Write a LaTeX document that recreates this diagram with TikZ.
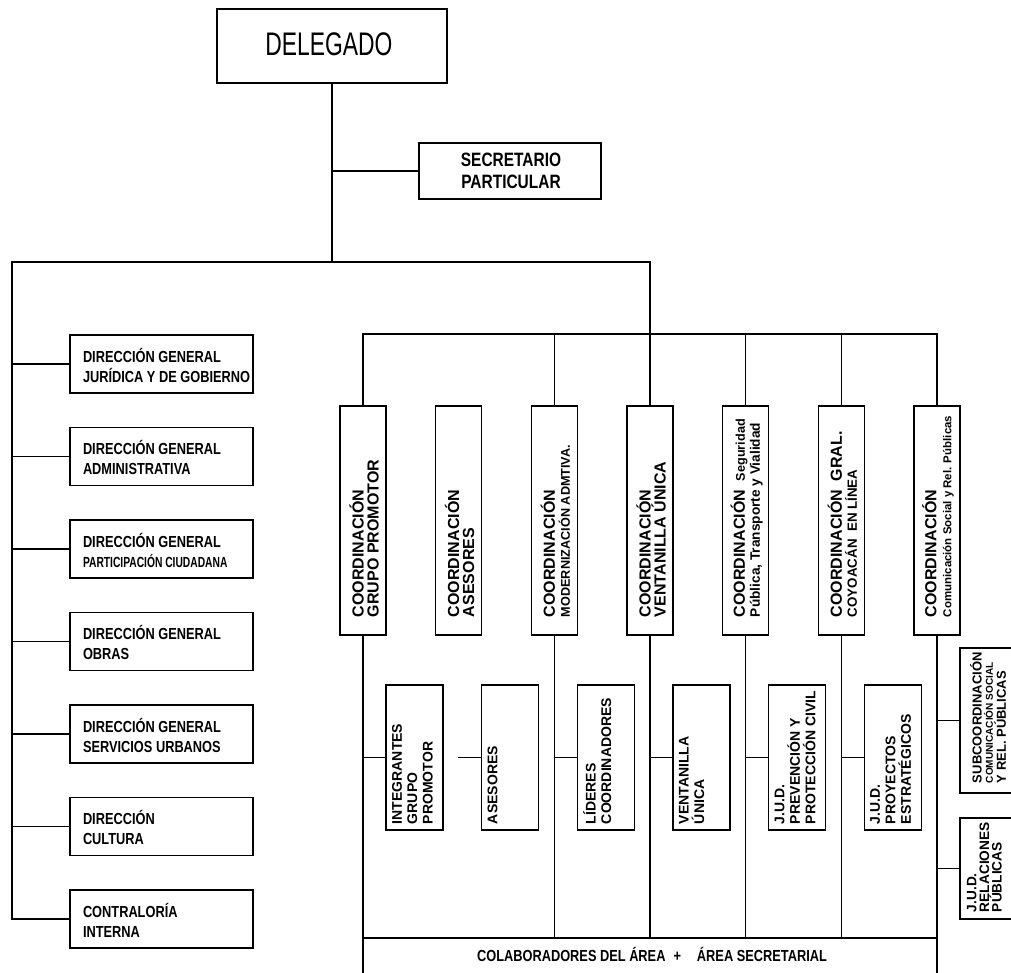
\documentclass[tikz,border=0pt]{standalone}
\usepackage{fontspec}
\setmainfont{Liberation Sans}
\newfontfamily\nar{Liberation Sans}[FakeStretch=0.8]
\newfontfamily\narr{Liberation Sans}[FakeStretch=0.7]
\usetikzlibrary{calc}
\newcommand{\fs}[2]{\fontsize{#1}{#2}\selectfont}
\begin{document}
\begin{tikzpicture}[x=0.75pt,y=-0.75pt, line width=1pt, line cap=rect,
  bx/.style={draw, inner sep=0pt, fill=white},
  sz/.style 2 args={minimum width=#1*0.75pt, minimum height=#2*0.75pt},
  lbl/.style={inner sep=0pt, align=left},
  rl/.style={rotate=90, inner sep=0pt, align=left},
  dirf/.style={font=\nar\bfseries\fs{12}{15}},
  coof/.style={font=\bfseries\fs{12}{11.25}},
  subf/.style={font=\bfseries\fs{10.5}{11.6}}]
\clip (0,0) rectangle (1011,972);
\fill[white] (0,0) rectangle (1011,972);

% ---------- boxes ----------
\node[bx, sz={230}{74}] (del) at (332,46) {};
\node[bx, sz={182}{56}] (sec) at (510,171) {};

\foreach \n/\t in {1/335,2/427.5,3/520,4/612.5,5/705,6/797.5,7/890}
  \node[bx, sz={183}{58}] (d\n) at (161.5,\t+29) {};

\foreach \n/\x in {1/363,2/458.7,3/554.3,4/650,5/745.7,6/841.3,7/937}
  \node[bx, sz={46}{229}] (c\n) at (\x,520.5) {};

\foreach \n/\x in {1/363,2/458.7,3/554.3,4/650,5/745.7,6/841.3}
  \node[bx, sz={57}{145}] (s\n) at (\x+51.5,757.5) {};

\node[bx, sz={80}{145}] (s7a) at (1000,720.5) {};
\node[bx, sz={80}{101}] (s7b) at (1000,868.5) {};

% ---------- coordinates ----------
\coordinate (busL) at (12,262);
\coordinate (busR) at (650,262);
\coordinate (cb) at (650,334);
\coordinate (ct) at (650,938);
\coordinate (bot) at (650,985);

% ---------- connectors ----------
\draw (del.south) -- (del.south |- busL);
\draw (del.south |- sec.west) -- (sec.west);
\draw (busL) -- (busR);
\draw (busL) -- (busL |- d7.west);
\foreach \n in {1,...,7} \draw (busL |- d\n.west) -- (d\n.west);
\draw (busR) -- (c4.north);
\draw (c1.north |- cb) -- (c7.north |- cb);
\foreach \c in {c1,c3,c5,c6,c7} \draw (\c.north |- cb) -- (\c.north);
\draw (c1.south) -- (c1.south |- bot);
\draw (c7.south) -- (c7.south |- bot);
\foreach \c in {c3,c4,c5,c6} \draw (\c.south) -- (\c.south |- ct);
\draw (c1.south |- ct) -- (c7.south |- ct);
\foreach \c/\s in {c1/s1,c2/s2,c3/s3,c4/s4,c5/s5,c6/s6,c7/s7a,c7/s7b}
  \draw (\c.south |- \s.west) -- (\s.west);

% ---------- labels ----------
\node[lbl, font=\narr\fs{24.5}{28}] (delt) at (329,44) {DELEGADO};
\node[lbl, align=center, font=\nar\bfseries\fs{14.5}{16.5}] (sect) at (511,171) {SECRETARIO\\PARTICULAR};

\node[lbl, dirf, anchor=west] (d1t) at ($(d1.west)+(13,1)$) {DIRECCIÓN GENERAL\\JURÍDICA Y DE GOBIERNO};
\node[lbl, dirf, anchor=west] (d2t) at ($(d2.west)+(13,1)$) {DIRECCIÓN GENERAL\\ADMINISTRATIVA};
\node[lbl, dirf, anchor=west] (d3t) at ($(d3.west)+(13,1)$) {DIRECCIÓN GENERAL\\\narr\fs{11}{15}PARTICIPACIÓN CIUDADANA};
\node[lbl, dirf, anchor=west] (d4t) at ($(d4.west)+(13,1)$) {DIRECCIÓN GENERAL\\OBRAS};
\node[lbl, dirf, anchor=west] (d5t) at ($(d5.west)+(13,1)$) {DIRECCIÓN GENERAL\\SERVICIOS URBANOS};
\node[lbl, dirf, anchor=west] (d6t) at ($(d6.west)+(13,1)$) {DIRECCIÓN\\CULTURA};
\node[lbl, dirf, anchor=west] (d7t) at ($(d7.west)+(13,1)$) {CONTRALORÍA\\INTERNA};

\node[rl, coof, anchor=west] (c1t) at ($(c1.south)+(1,-18)$) {COORDINACIÓN\\GRUPO PROMOTOR};
\node[rl, coof, anchor=west] (c2t) at ($(c2.south)+(1,-18)$) {COORDINACIÓN\\ASESORES};
\node[rl, coof, anchor=west] (c3t) at ($(c3.south)+(1,-18)$) {COORDINACIÓN\\\fs{9.5}{11.25}MODERNIZACIÓN ADMTIVA.};
\node[rl, coof, anchor=west] (c4t) at ($(c4.south)+(1,-18)$) {COORDINACIÓN\\VENTANILLA ÚNICA};
\node[rl, coof, anchor=west] (c5t) at ($(c5.south)+(1,-18)$) {COORDINACIÓN\ \ {\fs{9.5}{11.25}Seguridad}\\\fs{10.25}{11.25}Pública, Transporte y Vialidad};
\node[rl, coof, anchor=west] (c6t) at ($(c6.south)+(1,-18)$) {COORDINACIÓN\ \ GRAL.\\\fs{10}{11.25}COYOACÁN\ \ EN LÍNEA};
\node[rl, coof, anchor=west] (c7t) at ($(c7.south)+(1,-18)$) {COORDINACIÓN\\\fs{8.6}{10.5}Comunicación Social y Rel. Públicas};

\node[rl, subf, anchor=north west] (s1t) at ($(s1.south west)+(6,-6)$) {INTEGRANTES\\GRUPO\\PROMOTOR};
\node[rl, subf, anchor=north west] (s2t) at ($(s2.south west)+(6,-6)$) {ASESORES};
\node[rl, subf, anchor=north west] (s3t) at ($(s3.south west)+(6,-6)$) {LÍDERES\\COORDINADORES};
\node[rl, subf, anchor=north west] (s4t) at ($(s4.south west)+(6,-6)$) {VENTANILLA\\ÚNICA};
\node[rl, subf, anchor=north west] (s5t) at ($(s5.south west)+(6,-6)$) {J.U.D.\\PREVENCIÓN Y\\PROTECCIÓN CIVIL};
\node[rl, subf, anchor=north west] (s6t) at ($(s6.south west)+(6,-6)$) {J.U.D.\\PROYECTOS\\ESTRATÉGICOS};
\node[rl, font=\bfseries\fs{9.75}{8.5}, anchor=north west] (s7at) at ($(s7a.south west)+(10,-10)$) {SUBCOORDINACIÓN\\\fs{7.5}{8.5}COMUNICACIÓN SOCIAL\\Y REL. PÚBLICAS};
\node[rl, font=\bfseries\fs{10.25}{9.5}, anchor=north west] (s7bt) at ($(s7b.south west)+(7,-7)$) {J.U.D.\\RELACIONES\\PÚBLICAS};

\node[lbl, font=\nar\bfseries\fs{12}{14}] (colt) at (652,954) {COLABORADORES DEL ÁREA\hspace{6pt}+\hspace{12pt}ÁREA SECRETARIAL};
\end{tikzpicture}
\end{document}
